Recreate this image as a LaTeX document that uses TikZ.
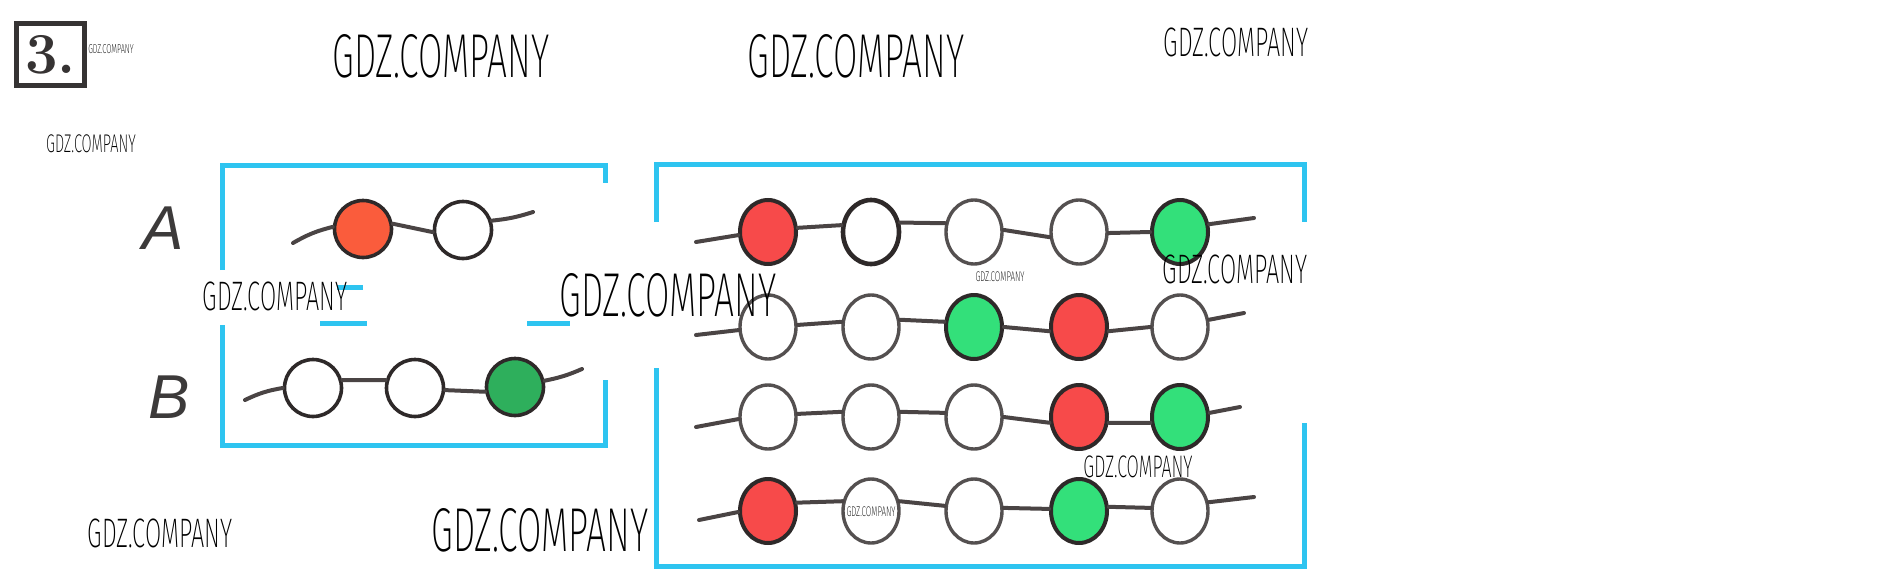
\documentclass[tikz,border=0pt]{standalone}
\usepackage{fontspec}
\usetikzlibrary{shapes.geometric}
\newfontfamily\wmfont[FakeStretch=0.57]{Fira Sans ExtraLight}
\newfontfamily\labfont{Liberation Sans}
\definecolor{frameblue}{HTML}{2EC4F0}
\definecolor{wiregray}{HTML}{4A4444}
\definecolor{beadrim}{HTML}{2E2929}
\definecolor{rimgray}{HTML}{545050}
\definecolor{beadred}{HTML}{F74A4A}
\definecolor{beadgreen}{HTML}{33E07A}
\definecolor{beadorange}{HTML}{FA5C3C}
\definecolor{beaddkgreen}{HTML}{2EAF5C}
\definecolor{labgray}{HTML}{3C3A3A}
\definecolor{numgray}{HTML}{363333}
\tikzset{
  wire/.style={draw=wiregray, line width=2pt, line cap=round},
  frame/.style={draw=frameblue, line width=2.5pt},
  beadL/.style={circle, draw=beadrim, line width=1.8pt, minimum size=28.5pt, inner sep=0pt},
  beadR/.style={ellipse, line width=2pt, minimum width=28pt, minimum height=32pt, inner sep=0pt},
  rd/.style={fill=beadred, draw=beadrim},
  gn/.style={fill=beadgreen, draw=beadrim},
  wt/.style={fill=white, draw=rimgray, line width=1.7pt},
  wk/.style={fill=white, draw=beadrim, line width=2.3pt},
  wm/.style={font=\wmfont\fontsize{#1}{#1}\selectfont, inner sep=0pt},
  lab/.style={font=\labfont\itshape\fontsize{31pt}{31pt}\selectfont, text=labgray, inner sep=0pt}
}
\begin{document}
\begin{tikzpicture}[x=0.5pt, y=-0.5pt]
  \useasboundingbox (0,0) rectangle (1895,578);
  \node[draw=numgray, line width=2.5pt, minimum width=34pt, minimum height=31pt, inner sep=0pt,
        text=numgray, font=\bfseries\fontsize{29pt}{29pt}\selectfont] (num) at (50.5,54.5) {3.};
  \draw[frame] (222,270) -- (222,165) -- (605,165) -- (605,183);
  \draw[frame] (605,380) -- (605,445) -- (222,445) -- (222,325);
  \draw[frame] (337,287) -- (363,287);
  \draw[frame] (320,323) -- (367,323) (527,323) -- (570,323);
  \draw[frame] (656,222) -- (656,164) -- (1304,164) -- (1304,222);
  \draw[frame] (1304,423) -- (1304,566) -- (656,566) -- (656,368);
  \node[lab] (la) at (163,228) {A};
  \node[lab] (lb) at (169,397) {B};
  \node[beadL, fill=beadorange] (a1) at (363,229) {};
  \node[beadL, fill=white] (a2) at (463,230) {};
  \node[beadL, fill=white] (b1) at (313,388) {};
  \node[beadL, fill=white] (b2) at (415,388) {};
  \node[beadL, fill=beaddkgreen] (b3) at (515,387) {};
  \coordinate (a0) at (293,243); \coordinate (a3) at (533,212);
  \coordinate (b0) at (245,400); \coordinate (b4) at (582,369);
  \draw[wire] (a0) to[bend left=8] (a1.176) (a1.10) -- (a2.184) (a2.18) to[bend right=6] (a3);
  \draw[wire] (b0) to[bend left=8] (b1.180) (b1.15) -- (b2.165) (b2.356) -- (b3.189) (b3.12) to[bend right=6] (b4);
  \foreach \r/\y/\ca/\cb/\cc/\cd/\ce in {1/232/rd/wk/wt/wt/gn, 2/327/wt/wt/gn/rd/wt, 3/417/wt/wt/wt/rd/gn, 4/511/rd/wt/wt/gn/wt}
  {
    \foreach \c/\x/\col in {1/768/\ca, 2/871/\cb, 3/974/\cc, 4/1079/\cd, 5/1180/\ce}
      \node[beadR, \col] (r\r\c) at (\x,\y) {};
  }
  \coordinate (s1) at (696,242); \coordinate (e1) at (1254,218);
  \coordinate (s2) at (696,335); \coordinate (e2) at (1244,313);
  \coordinate (s3) at (696,427); \coordinate (e3) at (1240,407);
  \coordinate (s4) at (699,520); \coordinate (e4) at (1254,497);
  \draw[wire] (s1) -- (r11.186) (r11.8) -- (r12.167) (r12.18) -- (r13.163) (r13.4) -- (r14.190) (r14.358) -- (r15.180) (r15.15) -- (e1);
  \draw[wire] (s2) -- (r21.186) (r21.4) -- (r22.170) (r22.14) -- (r23.170) (r23.0) -- (r24.188) (r24.352) -- (r25.180) (r25.14) -- (e2);
  \draw[wire] (s3) -- (r31.184) (r31.6) -- (r32.170) (r32.10) -- (r33.172) (r33.0) -- (r34.191) (r34.349) -- (r35.191) (r35.8) -- (e3);
  \draw[wire] (s4) -- (r41.182) (r41.16) -- (r42.161) (r42.19) -- (r43.170) (r43.6) -- (r44.176) (r44.8) -- (r45.174) (r45.17) -- (e4);
  \node[wm=6.5pt] (w13) at (111,49) {GDZ.COMPANY};
  \node[wm=31pt] (w1) at (441,56) {GDZ.COMPANY};
  \node[wm=31pt] (w2) at (856,56) {GDZ.COMPANY};
  \node[wm=20.6pt] (w3) at (1236,42) {GDZ.COMPANY};
  \node[wm=12.8pt] (w4) at (91,144) {GDZ.COMPANY};
  \node[wm=20.6pt] (w5) at (275,296) {GDZ.COMPANY};
  \node[wm=31pt] (w6) at (668,295) {GDZ.COMPANY};
  \node[wm=7pt] (w7) at (1000,277) {GDZ.COMPANY};
  \node[wm=20.6pt] (w8) at (1235,269) {GDZ.COMPANY};
  \node[wm=15.6pt] (w9) at (1138,467) {GDZ.COMPANY};
  \node[wm=20.6pt] (w10) at (160,533) {GDZ.COMPANY};
  \node[wm=31pt] (w11) at (540,530) {GDZ.COMPANY};
  \node[wm=7pt] (w12) at (871,512) {GDZ.COMPANY};
\end{tikzpicture}
\end{document}
